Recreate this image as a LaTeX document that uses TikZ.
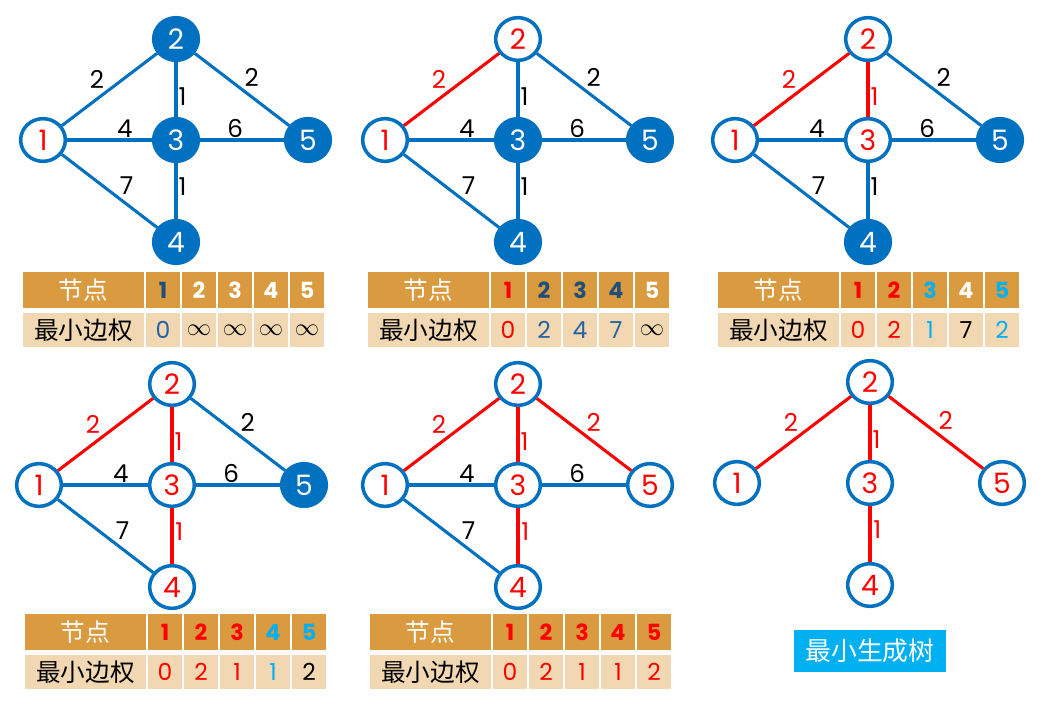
\documentclass[tikz,border=0pt]{standalone}
\usepackage{fontspec}
\setmainfont{Poppins}
\newfontfamily\cjk{Noto Sans CJK SC}
\usepackage{tikz}
\usetikzlibrary{shapes.geometric}
\definecolor{nodeblue}{RGB}{0,112,192}
\definecolor{mstred}{RGB}{255,0,0}
\definecolor{headorange}{RGB}{217,154,64}
\definecolor{rowbeige}{RGB}{241,216,178}
\definecolor{darkblue}{RGB}{31,78,121}
\definecolor{valblue}{RGB}{38,98,160}
\definecolor{skyblue}{RGB}{0,176,240}
\newcommand\infsym{{\fontsize{20}{20}\selectfont$\infty$}}
\newcommand\mstnodes[5]{%
  \node[#1] (n1) at (0,0) {1};
  \node[#2] (n2) at (133,-101) {2};
  \node[#3] (n3) at (133,0) {3};
  \node[#4] (n4) at (133,102) {4};
  \node[#5] (n5) at (265,0) {5};
}
\newcommand\msthead{%
  \node[headcell, minimum width=3.63cm, text=white, font=\fontsize{21}{21}\selectfont\cjk] (h0) at (60.5,18) {节点};
  \node[rowcell, minimum width=3.63cm, font=\fontsize{21}{21}\selectfont\cjk] (r0) at (60.5,58) {最小边权};
}

\begin{document}
\begin{tikzpicture}[x=0.03cm, y=-0.03cm,
    nd/.style={ellipse, minimum width=1.34cm, minimum height=1.28cm, inner sep=0pt,
      line width=3pt, draw=nodeblue, font=\fontsize{24}{24}\selectfont},
    vis/.style={nd, fill=white, text=mstred},
    unv/.style={nd, fill=nodeblue, text=white},
    bedge/.style={draw=nodeblue, line width=2.6pt},
    redge/.style={mstred, line width=2.6pt},
    tedge/.style={mstred, line width=3.8pt},
    wlab/.style={font=\fontsize{21}{21}\selectfont, inner sep=1pt},
    l12/.style={wlab, pos=.47, above left},
    l25/.style={wlab, pos=.5, above right},
    l23/.style={wlab, pos=.63, right},
    l13/.style={wlab, pos=.68, above},
    l35/.style={wlab, pos=.42, above},
    l34/.style={wlab, pos=.42, right},
    l14/.style={wlab, pos=.58, above right},
    cell/.style={rectangle, inner sep=0pt, minimum width=1.02cm},
    headcell/.style={cell, fill=headorange, minimum height=1.08cm, font=\fontsize{19}{19}\selectfont\bfseries},
    rowcell/.style={cell, fill=rowbeige, minimum height=1.02cm, font=\fontsize{20}{20}\selectfont},
    treebox/.style={rectangle, fill=skyblue, text=white, inner sep=0pt, minimum width=4.56cm,
      minimum height=1.26cm, font=\fontsize{22}{22}\selectfont\cjk}]
  \fill[white] (0,0) rectangle (1041,702);
  \useasboundingbox (0,0) rectangle (1041,702);
  % step 1
  \begin{scope}[shift={(43,140)}, name prefix=p1-]
    \mstnodes{vis}{unv}{unv}{unv}{unv}
    \foreach \a/\b/\w/\st in {1/2/2/bedge, 1/3/4/bedge, 2/3/1/bedge, 2/5/2/bedge, 3/5/6/bedge, 1/4/7/bedge, 3/4/1/bedge}
      \draw[\st] (n\a) -- (n\b) node[l\a\b] {\w};
  \end{scope}
  \begin{scope}[shift={(23,272)}, name prefix=t1-]
    \msthead
    \foreach \k/\hc/\v/\vc in {1/darkblue/0/valblue, 2/white/\infsym/black, 3/white/\infsym/black, 4/white/\infsym/black, 5/white/\infsym/black} {
      \node[headcell, text=\hc] (h\k) at (104+36*\k,18) {\k};
      \node[rowcell, text=\vc] (r\k) at (104+36*\k,58) {\v};
    }
  \end{scope}
  % step 2
  \begin{scope}[shift={(385,140)}, name prefix=p2-]
    \mstnodes{vis}{vis}{unv}{unv}{unv}
    \foreach \a/\b/\w/\st in {1/2/2/redge, 1/3/4/bedge, 2/3/1/bedge, 2/5/2/bedge, 3/5/6/bedge, 1/4/7/bedge, 3/4/1/bedge}
      \draw[\st] (n\a) -- (n\b) node[l\a\b] {\w};
  \end{scope}
  \begin{scope}[shift={(368,272)}, name prefix=t2-]
    \msthead
    \foreach \k/\hc/\v/\vc in {1/mstred/0/mstred, 2/darkblue/2/valblue, 3/darkblue/4/valblue, 4/darkblue/7/valblue, 5/white/\infsym/black} {
      \node[headcell, text=\hc] (h\k) at (104+36*\k,18) {\k};
      \node[rowcell, text=\vc] (r\k) at (104+36*\k,58) {\v};
    }
  \end{scope}
  % step 3
  \begin{scope}[shift={(735,140)}, name prefix=p3-]
    \mstnodes{vis}{vis}{vis}{unv}{unv}
    \foreach \a/\b/\w/\st in {1/2/2/redge, 1/3/4/bedge, 2/3/1/redge, 2/5/2/bedge, 3/5/6/bedge, 1/4/7/bedge, 3/4/1/bedge}
      \draw[\st] (n\a) -- (n\b) node[l\a\b] {\w};
  \end{scope}
  \begin{scope}[shift={(718,272)}, name prefix=t3-]
    \msthead
    \foreach \k/\hc/\v/\vc in {1/mstred/0/mstred, 2/mstred/2/mstred, 3/skyblue/1/skyblue, 4/white/7/black, 5/skyblue/2/skyblue} {
      \node[headcell, text=\hc] (h\k) at (104+36*\k,18) {\k};
      \node[rowcell, text=\vc] (r\k) at (104+36*\k,58) {\v};
    }
  \end{scope}
  % step 4
  \begin{scope}[shift={(39,485)}, name prefix=p4-]
    \mstnodes{vis}{vis}{vis}{vis}{unv}
    \foreach \a/\b/\w/\st in {1/2/2/redge, 1/3/4/bedge, 2/3/1/redge, 2/5/2/bedge, 3/5/6/bedge, 1/4/7/bedge, 3/4/1/tedge}
      \draw[\st] (n\a) -- (n\b) node[l\a\b] {\w};
  \end{scope}
  \begin{scope}[shift={(25,614)}, name prefix=t4-]
    \msthead
    \foreach \k/\hc/\v/\vc in {1/mstred/0/mstred, 2/mstred/2/mstred, 3/mstred/1/mstred, 4/skyblue/1/skyblue, 5/skyblue/2/black} {
      \node[headcell, text=\hc] (h\k) at (104+36*\k,18) {\k};
      \node[rowcell, text=\vc] (r\k) at (104+36*\k,58) {\v};
    }
  \end{scope}
  % step 5
  \begin{scope}[shift={(385,485)}, name prefix=p5-]
    \mstnodes{vis}{vis}{vis}{vis}{vis}
    \foreach \a/\b/\w/\st in {1/2/2/redge, 1/3/4/bedge, 2/3/1/redge, 2/5/2/redge, 3/5/6/bedge, 1/4/7/bedge, 3/4/1/tedge}
      \draw[\st] (n\a) -- (n\b) node[l\a\b] {\w};
  \end{scope}
  \begin{scope}[shift={(370,614)}, name prefix=t5-]
    \msthead
    \foreach \k/\hc/\v/\vc in {1/mstred/0/mstred, 2/mstred/2/mstred, 3/mstred/1/mstred, 4/mstred/1/mstred, 5/mstred/2/mstred} {
      \node[headcell, text=\hc] (h\k) at (104+36*\k,18) {\k};
      \node[rowcell, text=\vc] (r\k) at (104+36*\k,58) {\v};
    }
  \end{scope}
  % result
  \begin{scope}[shift={(737,483)}, name prefix=p6-]
    \mstnodes{vis}{vis}{vis}{vis}{vis}
    \foreach \a/\b/\w/\st in {1/2/2/redge, 2/3/1/redge, 2/5/2/redge, 3/4/1/tedge}
      \draw[\st] (n\a) -- (n\b) node[l\a\b] {\w};
  \end{scope}
  \node[treebox] (mst) at (870,651) {最小生成树};
\end{tikzpicture}
\end{document}
